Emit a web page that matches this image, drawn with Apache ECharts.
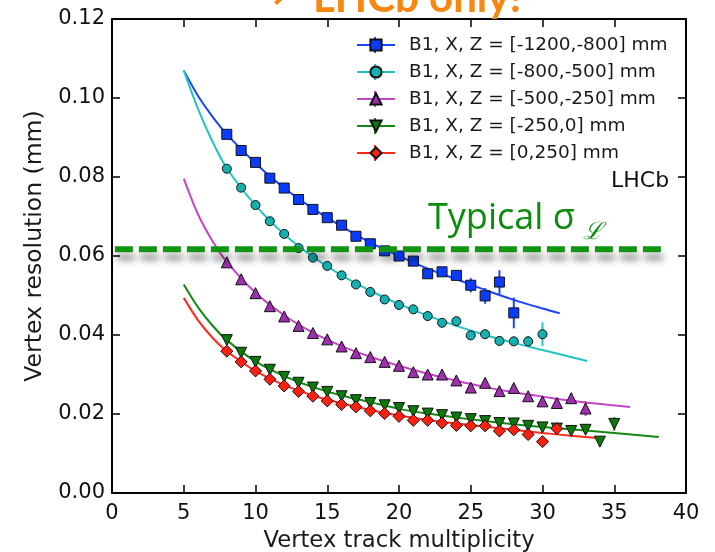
<!DOCTYPE html>
<html>
<head>
<meta charset="utf-8">
<script src="https://cdn.jsdelivr.net/npm/echarts@6/dist/echarts.min.js"></script>
<style>
  html, body { margin: 0; padding: 0; background: #ffffff; }
  #chart { width: 715px; height: 552px; }
</style>
</head>
<body>
<div id="chart"></div>
<script>
// Vertex resolution vs. track multiplicity, beam 1, X projection, per Z slice

const seriesNames = [
  'B1, X, Z = [-1200,-800] mm',
  'B1, X, Z = [-800,-500] mm',
  'B1, X, Z = [-500,-250] mm',
  'B1, X, Z = [-250,0] mm',
  'B1, X, Z = [0,250] mm'
];

// measured points
const blueX = [8, 9, 10, 11, 12, 13, 14, 15, 16, 17, 18, 19, 20, 21, 22, 23, 24, 25, 26, 27, 28];
const blueY = [0.0908, 0.0867, 0.0837, 0.0797, 0.0772, 0.0743, 0.0718, 0.0697, 0.0678, 0.0650, 0.0631,
               0.0613, 0.0600, 0.0587, 0.0555, 0.0560, 0.0551, 0.0526, 0.0499, 0.0534, 0.0456];
const blueErr = [0, 0, 0, 0, 0, 0, 0, 0, 0, 0, 0, 0, 0, 0, 0, 0.0005, 0.0008, 0.0018, 0.0020, 0.0030, 0.0039];

const cyanX = [8, 9, 10, 11, 12, 13, 14, 15, 16, 17, 18, 19, 20, 21, 22, 23, 24, 25, 26, 27, 28, 29, 30];
const cyanY = [0.0821, 0.0773, 0.0729, 0.0688, 0.0656, 0.0620, 0.0596, 0.0575, 0.0551, 0.0528, 0.0509, 0.0490,
               0.0476, 0.0465, 0.0448, 0.0431, 0.0435, 0.0399, 0.0402, 0.0385, 0.0384, 0.0384, 0.0402];
const cyanErr = [0, 0, 0, 0, 0, 0, 0, 0, 0, 0, 0, 0, 0, 0, 0, 0, 0, 0, 0, 0.0006, 0.0010, 0.0014, 0.0030];

const magentaX = [8, 9, 10, 11, 12, 13, 14, 15, 16, 17, 18, 19, 20, 21, 22, 23, 24, 25, 26, 27, 28, 29, 30, 31, 32, 33];
const magentaY = [0.0584, 0.0541, 0.0506, 0.0473, 0.0447, 0.0423, 0.0405, 0.0389, 0.0371, 0.0354, 0.0344, 0.0332,
                  0.0322, 0.0306, 0.0300, 0.0300, 0.0285, 0.0267, 0.0279, 0.0258, 0.0266, 0.0245, 0.0232, 0.0228,
                  0.0240, 0.0214];
const magentaErr = [0, 0, 0, 0, 0, 0, 0, 0, 0, 0, 0, 0, 0, 0, 0, 0, 0, 0, 0, 0, 0, 0.0005, 0.0005, 0.0005, 0.0013, 0.0019];

const greenX = [8, 9, 10, 11, 12, 13, 14, 15, 16, 17, 18, 19, 20, 21, 22, 23, 24, 25, 26, 27, 28, 29, 30, 31, 32, 33, 34, 35];
const greenY = [0.0387, 0.0355, 0.0332, 0.0312, 0.0294, 0.0279, 0.0267, 0.0256, 0.0245, 0.0235, 0.0228, 0.0222,
                0.0215, 0.0207, 0.0201, 0.0197, 0.0191, 0.0187, 0.0182, 0.0177, 0.0176, 0.0170, 0.0166, 0.0163,
                0.0157, 0.0160, 0.0130, 0.0175];
const greenErr = [0, 0, 0, 0, 0, 0, 0, 0, 0, 0, 0, 0, 0, 0, 0, 0, 0, 0, 0, 0, 0, 0, 0, 0, 0, 0.0005, 0.0007, 0.0017];

const redX = [8, 9, 10, 11, 12, 13, 14, 15, 16, 17, 18, 19, 20, 21, 22, 23, 24, 25, 26, 27, 28, 29, 30, 31];
const redY = [0.0359, 0.0332, 0.0309, 0.0288, 0.0271, 0.0257, 0.0245, 0.0233, 0.0224, 0.0218, 0.0208, 0.0201,
              0.0194, 0.0184, 0.0184, 0.0177, 0.0171, 0.0170, 0.0170, 0.0157, 0.0160, 0.0148, 0.0130, 0.0163];
const redErr = [0, 0, 0, 0, 0, 0, 0, 0, 0, 0, 0, 0, 0, 0, 0, 0, 0, 0, 0, 0, 0, 0, 0.0005, 0.0010];

// fitted resolution curves
const blueFitX = [5, 6, 7, 8, 10, 12, 14, 16, 18, 20, 22, 24, 26, 28, 30, 31.2];
const blueFitY = [0.1070, 0.1005, 0.0953, 0.0908, 0.0835, 0.0772, 0.0720, 0.0675, 0.0634, 0.0600, 0.0568,
                  0.0541, 0.0514, 0.0489, 0.0467, 0.0455];
const cyanFitX = [5, 6, 7, 8, 10, 12, 14, 16, 18, 20, 22, 24, 26, 28, 30, 33.1];
const cyanFitY = [0.1070, 0.0972, 0.0890, 0.0822, 0.0728, 0.0655, 0.0598, 0.0551, 0.0512, 0.0478, 0.0449,
                  0.0423, 0.0400, 0.0380, 0.0362, 0.0334];
const magentaFitX = [5, 6, 7, 8, 10, 12, 14, 16, 18, 20, 22, 24, 26, 28, 30, 33, 36.1];
const magentaFitY = [0.0796, 0.0705, 0.0638, 0.0585, 0.0507, 0.0450, 0.0406, 0.0372, 0.0345, 0.0322, 0.0302,
                     0.0284, 0.0268, 0.0255, 0.0244, 0.0229, 0.0218];
const greenFitX = [5, 6, 7, 8, 10, 12, 14, 16, 18, 20, 22, 24, 26, 28, 30, 33, 38.1];
const greenFitY = [0.0528, 0.0470, 0.0424, 0.0387, 0.0333, 0.0296, 0.0268, 0.0247, 0.0230, 0.0213, 0.0201,
                   0.0191, 0.0182, 0.0174, 0.0167, 0.0158, 0.0142];
const redFitX = [5, 6, 7, 8, 10, 12, 14, 16, 18, 20, 22, 24, 26, 28, 30, 32, 33.8];
const redFitY = [0.0494, 0.0437, 0.0393, 0.0359, 0.0309, 0.0273, 0.0247, 0.0227, 0.0210, 0.0196, 0.0185,
                 0.0176, 0.0168, 0.0160, 0.0152, 0.0145, 0.0139];

// typical luminous-region width
const typicalX = [0.2, 38.5];
const typicalY = [0.0617, 0.0617];

// axis ticks
const xTicks = [0, 5, 10, 15, 20, 25, 30, 35, 40];
const yTicks = ['0.00', '0.02', '0.04', '0.06', '0.08', '0.10', '0.12'];

const FONT = 'DejaVu Sans';
const GREEN_NOTE = '#0c8c0c';

const groups = [
  { name: seriesNames[0], x: blueX, y: blueY, e: blueErr, fx: blueFitX, fy: blueFitY,
    line: '#1a44ff', fill: '#0a3cff', symbol: 'rect', size: 10, rotate: 0 },
  { name: seriesNames[1], x: cyanX, y: cyanY, e: cyanErr, fx: cyanFitX, fy: cyanFitY,
    line: '#22c3c3', fill: '#13b1b1', symbol: 'circle', size: 9, rotate: 0 },
  { name: seriesNames[2], x: magentaX, y: magentaY, e: magentaErr, fx: magentaFitX, fy: magentaFitY,
    line: '#c545c8', fill: '#9e2fae', symbol: 'triangle', size: 11, rotate: 0 },
  { name: seriesNames[3], x: greenX, y: greenY, e: greenErr, fx: greenFitX, fy: greenFitY,
    line: '#128a12', fill: '#0a7a0a', symbol: 'triangle', size: 11, rotate: 180 },
  { name: seriesNames[4], x: redX, y: redY, e: redErr, fx: redFitX, fy: redFitY,
    line: '#ff2a1a', fill: '#ff2010', symbol: 'diamond', size: 12, rotate: 0 }
];

const zip = (a, b) => a.map((v, i) => [v, b[i]]);
const zip3 = (a, b, c) => a.map((v, i) => [v, b[i], c[i]]);

const series = [];
groups.forEach(g => {
  // fit curve
  series.push({
    type: 'line', name: g.name + ' fit', data: zip(g.fx, g.fy), smooth: 0.3,
    showSymbol: false, symbol: 'none', z: 2, silent: true,
    lineStyle: { color: g.line, width: 2 }
  });
  // error bars
  series.push({
    type: 'custom', name: g.name + ' err', data: zip3(g.x, g.y, g.e), z: 3, silent: true,
    encode: { x: 0, y: 1 },
    renderItem: (params, api) => {
      const x = api.value(0), y = api.value(1), e = api.value(2);
      if (!e) return null;
      const p1 = api.coord([x, y - e]);
      const p2 = api.coord([x, y + e]);
      return { type: 'line', shape: { x1: p1[0], y1: p1[1], x2: p2[0], y2: p2[1] },
               style: { stroke: g.line, lineWidth: 2 } };
    }
  });
  // measured points
  series.push({
    type: 'line', name: g.name, data: zip(g.x, g.y), z: 4,
    symbol: g.symbol, symbolSize: g.size, symbolRotate: g.rotate, showSymbol: true, showAllSymbol: true,
    color: g.line,
    lineStyle: { color: g.line, width: 2, opacity: 0 },
    itemStyle: { color: g.fill, borderColor: '#111', borderWidth: 1 },
    emphasis: { disabled: true }
  });
});

// dashed reference level with a soft drop shadow
series.push({
  type: 'line', name: 'typical', data: zip(typicalX, typicalY), z: 5, silent: true,
  showSymbol: false, symbol: 'none',
  lineStyle: { color: '#119411', width: 6, type: [18, 6], cap: 'butt',
               shadowColor: 'rgba(0,0,0,0.45)', shadowBlur: 7, shadowOffsetX: 2, shadowOffsetY: 8 }
});

const axisCommon = {
  type: 'value',
  axisLine: { show: true, onZero: false, lineStyle: { color: '#000', width: 2 } },
  axisTick: { show: true, inside: true, length: 8, lineStyle: { color: '#000', width: 1.5 } },
  splitLine: { show: false },
  minorTick: { show: false }
};

// legend geometry
const LEG_LEFT = 351, LEG_TOP = 30, LEG_ICON_W = 38, LEG_ROW = 27;
const legendErrTicks = groups.map((g, i) => ({
  type: 'line', z: 1, silent: true,
  shape: { x1: LEG_LEFT + 5 + LEG_ICON_W / 2, y1: LEG_TOP + 15 + i * LEG_ROW - 8,
           x2: LEG_LEFT + 5 + LEG_ICON_W / 2, y2: LEG_TOP + 15 + i * LEG_ROW + 8 },
  style: { stroke: g.line, lineWidth: 2 }
}));

const option = {
  animation: false,
  backgroundColor: '#ffffff',
  grid: { left: 112, right: 29, top: 19, bottom: 59, outerBoundsMode: 'none', containLabel: false },
  xAxis: [
    Object.assign({}, axisCommon, {
      min: 0, max: 40, interval: 5, position: 'bottom',
      name: 'Vertex track multiplicity', nameLocation: 'middle', nameGap: 37,
      nameTextStyle: { fontFamily: FONT, fontSize: 22.7, color: '#1a1a1a' },
      axisLabel: { fontFamily: FONT, fontSize: 21, color: '#111', margin: 10,
                   formatter: v => String(xTicks[xTicks.indexOf(v)]) }
    }),
    Object.assign({}, axisCommon, {
      min: 0, max: 40, interval: 5, position: 'top', axisLabel: { show: false }
    })
  ],
  yAxis: [
    Object.assign({}, axisCommon, {
      min: 0, max: 0.12, interval: 0.02, position: 'left',
      name: 'Vertex resolution (mm)', nameLocation: 'middle', nameGap: 62,
      nameTextStyle: { fontFamily: FONT, fontSize: 23.5, color: '#1a1a1a', padding: [0, 0, 0, 20] },
      axisLabel: { fontFamily: FONT, fontSize: 21, color: '#111', margin: 7,
                   formatter: v => yTicks[Math.round(v / 0.02)] }
    }),
    Object.assign({}, axisCommon, {
      min: 0, max: 0.12, interval: 0.02, position: 'right', axisLabel: { show: false }
    })
  ],
  legend: {
    data: seriesNames,
    orient: 'vertical', left: LEG_LEFT, top: LEG_TOP,
    itemWidth: LEG_ICON_W, itemHeight: 14, itemGap: 7, z: 4,
    selectedMode: false,
    lineStyle: { width: 2, opacity: 1 },
    textStyle: { fontFamily: FONT, fontSize: 18.5, color: '#1a1a1a', lineHeight: 20, padding: [0, 0, 0, 9] }
  },
  graphic: legendErrTicks.concat([
    { type: 'text', left: 611, top: 170, z: 10, silent: true,
      style: { text: 'LHCb', fontFamily: FONT, fontSize: 22, fill: '#111' } },
    { type: 'text', x: 428, y: 237, z: 10, silent: true,
      style: { text: 'Typical σ', fontFamily: 'Open Sans', fontSize: 36, fill: GREEN_NOTE,
               verticalAlign: 'bottom', align: 'left' } },
    { type: 'text', x: 583, y: 245, z: 10, silent: true,
      style: { text: 'ℒ', fontFamily: 'DejaVu Serif', fontStyle: 'italic', fontSize: 24, fill: GREEN_NOTE,
               verticalAlign: 'bottom', align: 'left' } },
    { type: 'text', x: 252, y: 19, z: 10, silent: true,
      style: { text: '→', fontFamily: 'DejaVu Sans', fontWeight: 'bold', fontSize: 42, fill: '#f7870f',
               verticalAlign: 'bottom', align: 'left' } },
    { type: 'text', x: 313, y: 19, z: 10, silent: true,
      style: { text: 'LHCb only!', fontFamily: 'Lato', fontWeight: 'bold', fontSize: 42, fill: '#f7870f',
               verticalAlign: 'bottom', align: 'left' } }
  ]),
  series: series
};

const chart = echarts.init(document.getElementById('chart'), null, { renderer: 'canvas' });
chart.setOption(option);
</script>
</body>
</html>
